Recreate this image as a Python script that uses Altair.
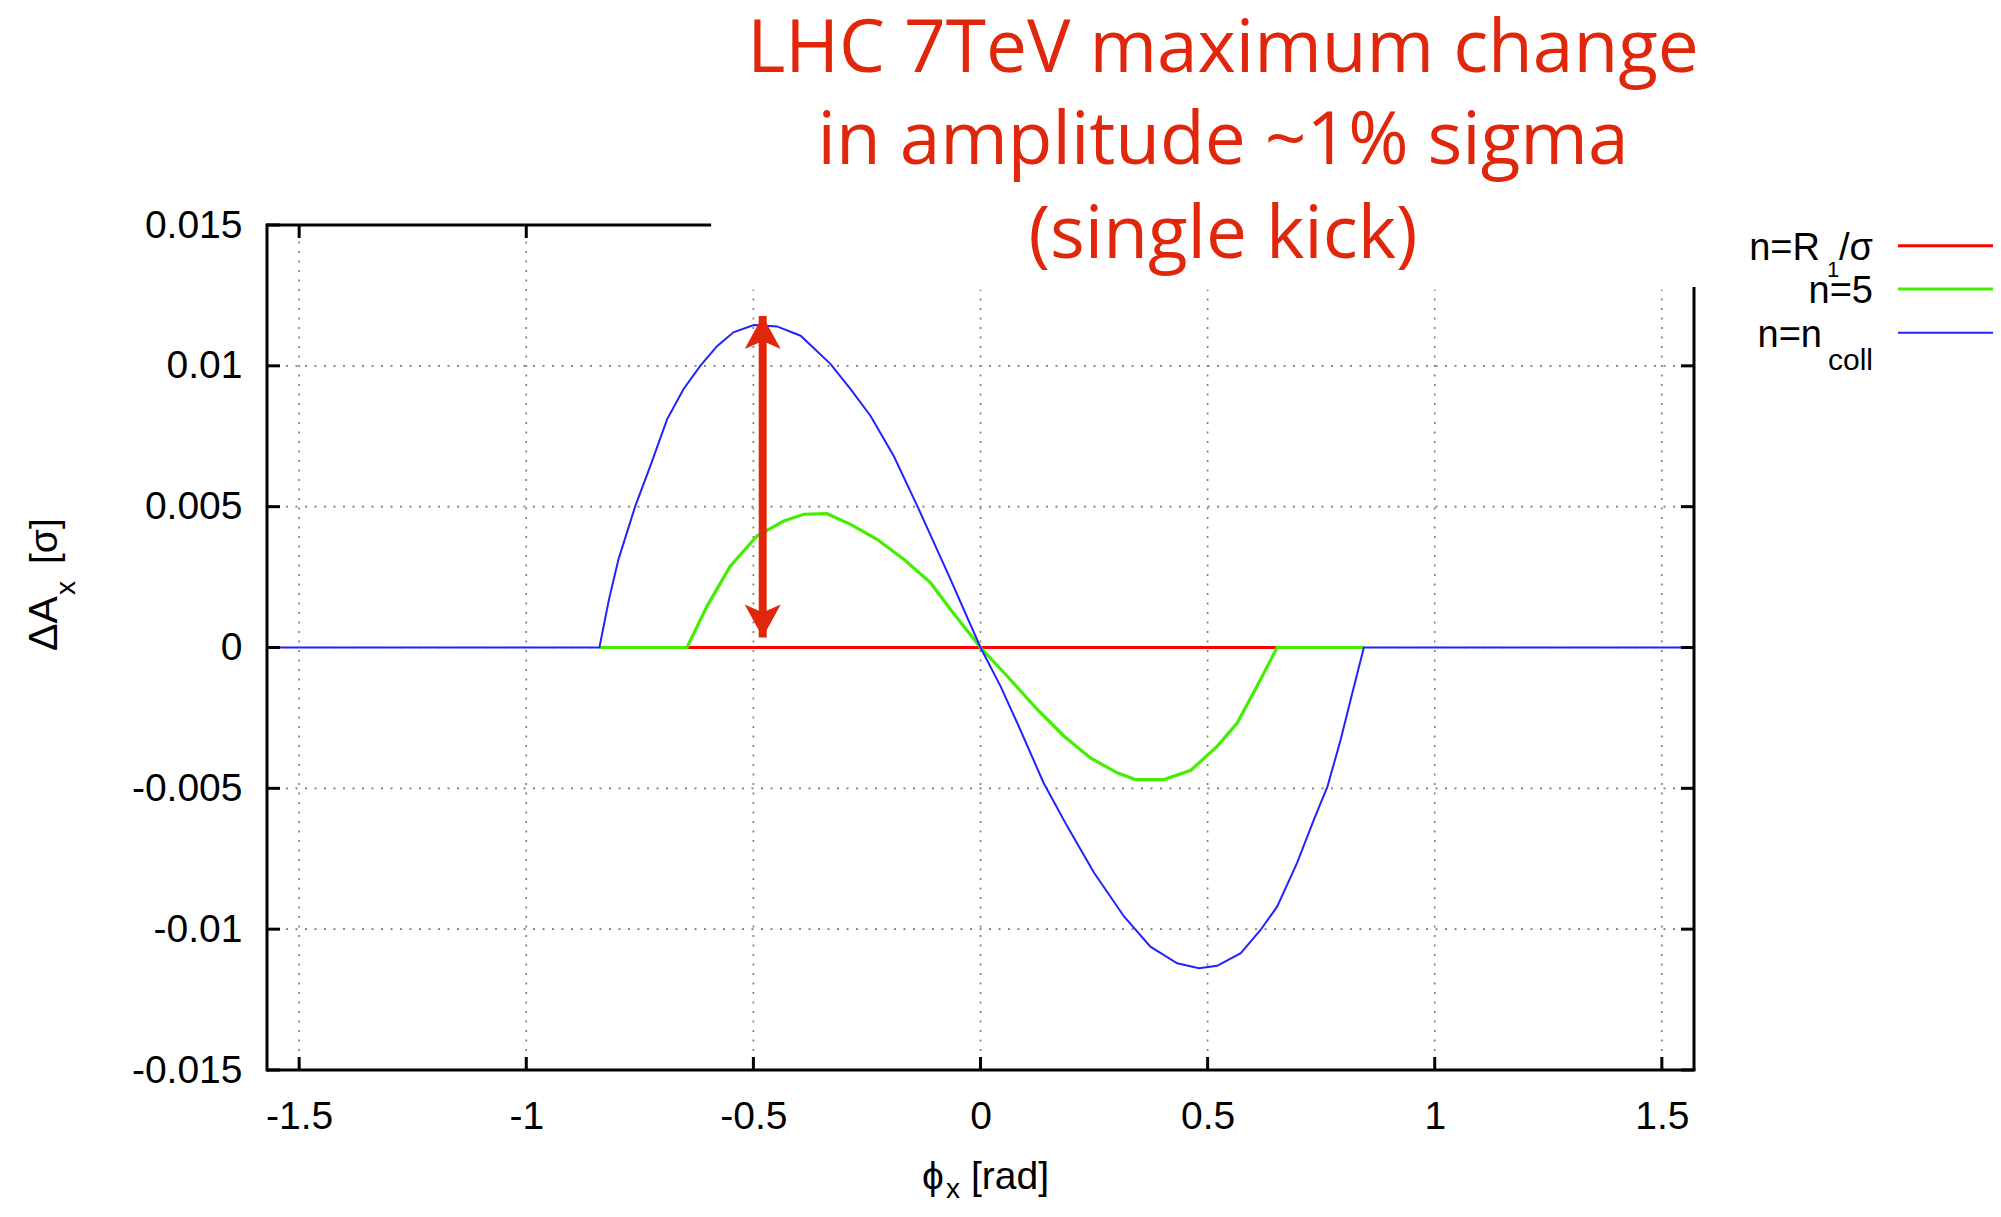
import altair as alt
import pandas as pd

# ---------------- data ----------------
X_MIN, X_MAX = -1.5708, 1.5708
Y_MIN, Y_MAX = -0.015, 0.015

x_ticks = [-1.5, -1, -0.5, 0, 0.5, 1, 1.5]
y_ticks = [-0.015, -0.01, -0.005, 0, 0.005, 0.01, 0.015]

# visible part of each series (the rest lies under the later-drawn series)
red_x = [-0.646, 0.653]
red_y = [0.0, 0.0]

green_x = [-0.839, -0.646, -0.602, -0.551, -0.492, -0.433, -0.389, -0.338, -0.286,
           -0.228, -0.169, -0.110, -0.066, 0.0, 0.059, 0.125, 0.184, 0.242, 0.301,
           0.341, 0.404, 0.463, 0.521, 0.565, 0.609, 0.653, 0.844]
green_y = [0.0, 0.0, 0.00147, 0.00289, 0.00396, 0.00449, 0.00473, 0.00475, 0.00437,
           0.00384, 0.00313, 0.0023, 0.00135, 0.0, -0.00102, -0.0022, -0.00315, -0.00392,
           -0.00445, -0.00469, -0.00469, -0.00436, -0.00351, -0.00268, -0.00137, 0.0, 0.0]

blue_x = [-1.5708, -0.839, -0.818, -0.797, -0.760, -0.727, -0.690, -0.654, -0.617,
          -0.580, -0.544, -0.499, -0.448, -0.396, -0.330, -0.286, -0.242, -0.191,
          -0.139, -0.066, 0.0, 0.044, 0.081, 0.139, 0.191, 0.250, 0.316, 0.374,
          0.433, 0.481, 0.521, 0.573, 0.617, 0.653, 0.697, 0.734, 0.764, 0.793,
          0.815, 0.844, 1.5708]
blue_y = [0.0, 0.0, 0.0017, 0.00313, 0.00502, 0.00644, 0.0081, 0.00917, 0.0100,
          0.0107, 0.01119, 0.01145, 0.0114, 0.01107, 0.01006, 0.00917, 0.00822, 0.0068,
          0.00502, 0.00242, 0.0, -0.00137, -0.00268, -0.00481, -0.00635, -0.0080,
          -0.00955, -0.01062, -0.01121, -0.01139, -0.0113, -0.01085, -0.01002, -0.0092,
          -0.00765, -0.00611, -0.00493, -0.00327, -0.00185, 0.0, 0.0]

arrow_x = [-0.4795]
arrow_top = [0.01177]
arrow_bottom = [0.000355]

title_lines = ["LHC 7TeV maximum change", "in amplitude ~1% sigma", "(single kick)"]

# where the title box hides the frame
frame_top_end = -0.593
frame_right_top = 0.0128
grid_top = [0.015, 0.015, 0.0127, 0.0127, 0.0127, 0.0127, 0.0127]

# ---------------- styling ----------------
W, H = 1427, 845
FONT = "Liberation Sans"
RED = "#ff0000"
GREEN = "#44ee00"
BLUE = "#2222ff"
ANNO = "#e1270b"
TICK_LEN = 13

xs = alt.Scale(domain=[X_MIN, X_MAX], nice=False, zero=False)
ys = alt.Scale(domain=[Y_MIN, Y_MAX], nice=False, zero=False)
lab_expr = "(datum.value < 0 ? '-' : '') + format(abs(datum.value), '')"
xa = alt.Axis(values=x_ticks, grid=False, domain=False, ticks=False, tickSize=0,
              labelFont=FONT, labelFontSize=39, labelColor="black", labelPadding=27,
              labelFlush=False, labelOverlap=False, labelExpr=lab_expr, title=None)
ya = alt.Axis(values=y_ticks, grid=False, domain=False, ticks=False, tickSize=0,
              labelFont=FONT, labelFontSize=39, labelColor="black", labelPadding=25,
              labelFlush=False, labelOverlap=False, labelExpr=lab_expr, title=None)


def X(f):
    return alt.X(f, type="quantitative", scale=xs, axis=xa)


def Y(f):
    return alt.Y(f, type="quantitative", scale=ys, axis=ya)


one = pd.DataFrame({"a": [0]})

# ---------------- grid ----------------
vgrid_df = pd.DataFrame({"x": x_ticks, "y": [Y_MIN] * len(x_ticks), "y2": grid_top})
hgrid_vals = [v for v in y_ticks if abs(v) < 0.0149]
hgrid_df = pd.DataFrame({"y": hgrid_vals, "x": [X_MIN] * len(hgrid_vals),
                         "x2": [X_MAX] * len(hgrid_vals)})
grid_style = dict(color="#7a7a7a", strokeWidth=1.6, strokeDash=[2, 7.5])
vgrid = alt.Chart(vgrid_df).mark_rule(**grid_style).encode(
    x=X("x"), y=Y("y"), y2=alt.Y2("y2"))
hgrid = alt.Chart(hgrid_df).mark_rule(**grid_style).encode(
    y=Y("y"), x=X("x"), x2=alt.X2("x2"))


# ---------------- curves ----------------
def curve(xv, yv, color, width):
    df = pd.DataFrame({"x": xv, "y": yv, "i": list(range(len(xv)))})
    return alt.Chart(df).mark_line(color=color, strokeWidth=width, interpolate="linear").encode(
        x=X("x"), y=Y("y"), order="i:Q")


red = curve(red_x, red_y, RED, 3.2)
green = curve(green_x, green_y, GREEN, 3.2)
blue = curve(blue_x, blue_y, BLUE, 2.0)

# ---------------- frame and ticks ----------------
frame_style = dict(color="black", strokeWidth=3)
frame_left = alt.Chart(one).mark_rule(**frame_style).encode(
    x=alt.value(0), y=alt.value(-1.5), y2=alt.value(H + 1.5))
frame_bottom = alt.Chart(one).mark_rule(**frame_style).encode(
    y=alt.value(H), x=alt.value(0), x2=alt.value(W + 1.5))
frame_top = alt.Chart(pd.DataFrame({"x": [X_MIN], "x2": [frame_top_end]})).mark_rule(**frame_style).encode(
    x=X("x"), x2=alt.X2("x2"), y=alt.value(0))
frame_right = alt.Chart(pd.DataFrame({"y": [frame_right_top], "y2": [Y_MIN]})).mark_rule(**frame_style).encode(
    y=Y("y"), y2=alt.Y2("y2"), x=alt.value(W))

tick_style = dict(color="black", strokeWidth=3)
ticks_bottom = alt.Chart(pd.DataFrame({"x": x_ticks})).mark_rule(**tick_style).encode(
    x=X("x"), y=alt.value(H), y2=alt.value(H - TICK_LEN))
ticks_top = alt.Chart(pd.DataFrame({"x": [v for v in x_ticks if v < frame_top_end]})).mark_rule(**tick_style).encode(
    x=X("x"), y=alt.value(0), y2=alt.value(TICK_LEN))
ticks_left = alt.Chart(pd.DataFrame({"y": y_ticks})).mark_rule(**tick_style).encode(
    y=Y("y"), x=alt.value(0), x2=alt.value(TICK_LEN))
ticks_right = alt.Chart(pd.DataFrame({"y": [v for v in y_ticks if v < frame_right_top]})).mark_rule(**tick_style).encode(
    y=Y("y"), x=alt.value(W - TICK_LEN), x2=alt.value(W))

# ---------------- arrow ----------------
arrow_df = pd.DataFrame({"x": arrow_x, "top": arrow_top, "bottom": arrow_bottom})
shaft = alt.Chart(arrow_df).mark_rule(color=ANNO, strokeWidth=8).encode(
    x=X("x"), y=Y("top"), y2=alt.Y2("bottom"))
UP = "M0,-1L0.9,0.65L0,0.25L-0.9,0.65Z"
DOWN = "M0,1L0.9,-0.65L0,-0.25L-0.9,-0.65Z"
head_up = alt.Chart(arrow_df).mark_point(shape=UP, filled=True, size=1600, color=ANNO,
                                         opacity=1, strokeWidth=0, yOffset=20).encode(
    x=X("x"), y=Y("top"))
head_down = alt.Chart(arrow_df).mark_point(shape=DOWN, filled=True, size=1600, color=ANNO,
                                           opacity=1, strokeWidth=0, yOffset=-20).encode(
    x=X("x"), y=Y("bottom"))


# ---------------- texts ----------------
def txt(s, x, y, size, align="left", angle=0, color="black", font=FONT):
    return alt.Chart(one).mark_text(text=s, align=align, baseline="alphabetic", fontSize=size,
                                    font=font, color=color, angle=angle).encode(
        x=alt.value(x), y=alt.value(y))


TF = 73
title_layers = [
    txt(title_lines[0], 956, -153, TF, align="center", color=ANNO, font="Open Sans"),
    txt(title_lines[1], 956, -61, TF, align="center", color=ANNO, font="Open Sans"),
    txt(title_lines[2], 956, 33, TF, align="center", color=ANNO, font="Open Sans"),
]

LEG_X0, LEG_X1 = 1631, 1726
legend_layers = [
    txt("n=R", 1553, 35, 38, align="right"),
    txt("1", 1560, 52, 22),
    txt("/σ", 1606, 35, 38, align="right"),
    txt("n=5", 1606, 78, 38, align="right"),
    txt("n=n", 1555, 122, 38, align="right"),
    txt("coll", 1606, 145, 30, align="right"),
    alt.Chart(one).mark_rule(color=RED, strokeWidth=3).encode(
        x=alt.value(LEG_X0), x2=alt.value(LEG_X1), y=alt.value(20.7)),
    alt.Chart(one).mark_rule(color=GREEN, strokeWidth=3).encode(
        x=alt.value(LEG_X0), x2=alt.value(LEG_X1), y=alt.value(64)),
    alt.Chart(one).mark_rule(color=BLUE, strokeWidth=2).encode(
        x=alt.value(LEG_X0), x2=alt.value(LEG_X1), y=alt.value(107.7)),
]

axis_title_layers = [
    txt("ϕ", 655, 964, 39),
    txt("x", 679, 973, 28),
    txt("[rad]", 704, 964, 39),
    txt("ΔA", -210, 426, 41, angle=270),
    txt("x", -192, 370, 28, angle=270),
    txt("[σ]", -210, 339, 39, angle=270),
]

chart = alt.layer(
    vgrid, hgrid, red, green, blue,
    frame_left, frame_bottom, frame_top, frame_right,
    ticks_bottom, ticks_top, ticks_left, ticks_right,
    shaft, head_up, head_down,
    *title_layers, *legend_layers, *axis_title_layers,
).properties(
    width=W, height=H,
    autosize=alt.AutoSizeParams(type="none"),
    padding={"left": 259, "top": 217, "right": 299, "bottom": 133},
    background="white",
).configure_view(stroke=None)

chart.save("out.html", embed_options={"renderer": "svg", "actions": False})
